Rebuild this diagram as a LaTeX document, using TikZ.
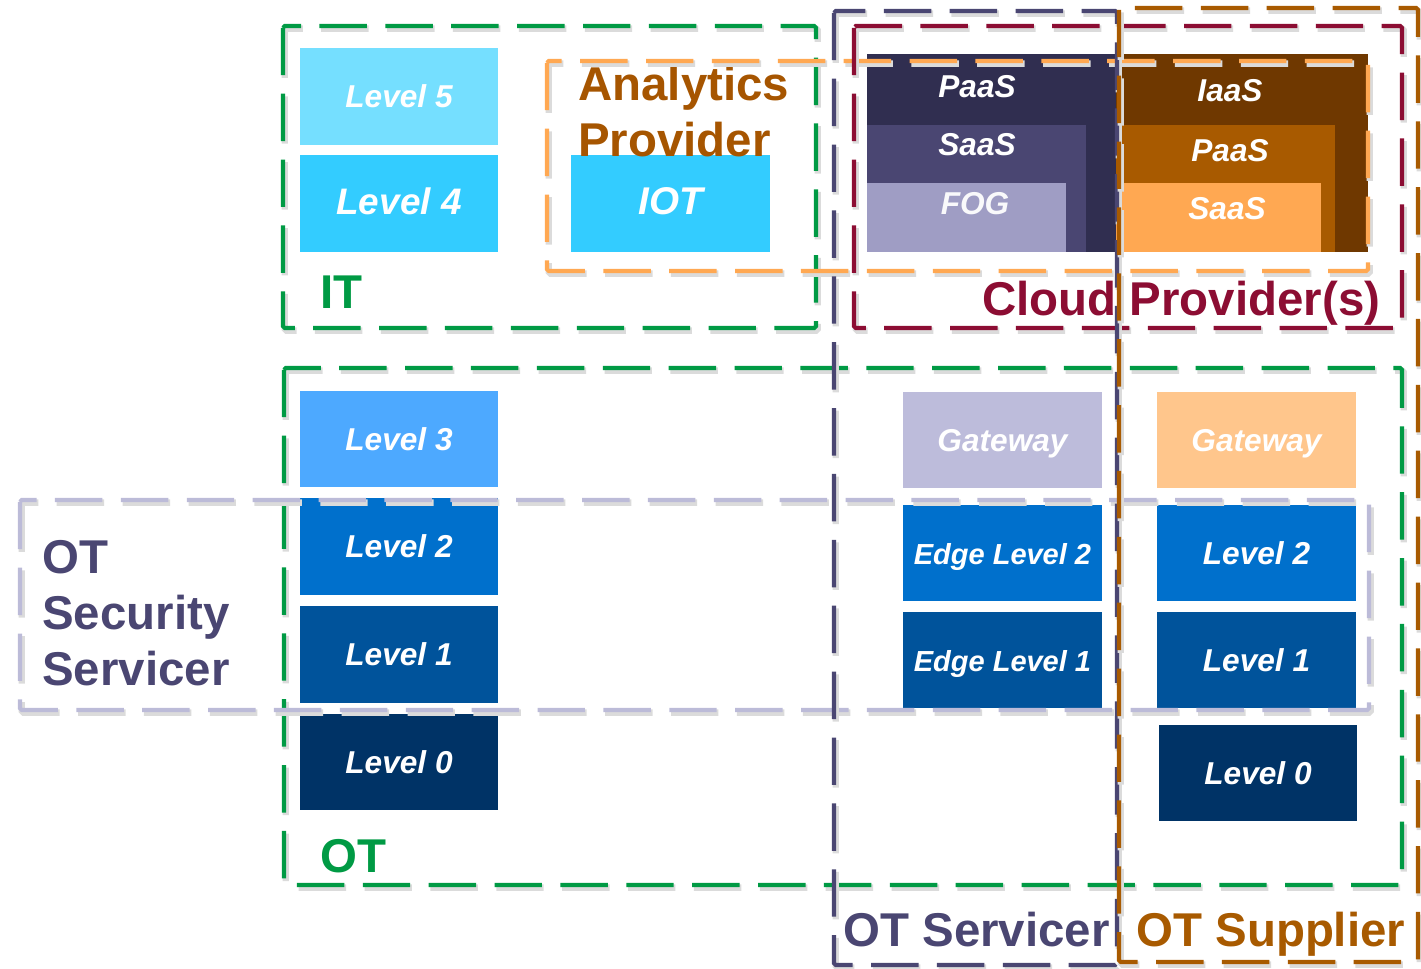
\documentclass[tikz,border=0pt]{standalone}
\usepackage{fontspec}
\setmainfont{Liberation Sans}
\usetikzlibrary{arrows.meta,calc}
\definecolor{itgreen}{HTML}{009A44}
\definecolor{secgray}{HTML}{BCBBD8}
\definecolor{servnavy}{HTML}{4A4672}
\definecolor{suppbrown}{HTML}{A85A00}
\definecolor{cloudred}{HTML}{8C0D33}
\definecolor{anaorange}{HTML}{FFA852}
\definecolor{anatext}{HTML}{A65500}
\definecolor{lvfive}{HTML}{75DFFF}
\definecolor{lvfour}{HTML}{33CCFF}
\definecolor{lvthree}{HTML}{4DA9FF}
\definecolor{lvtwo}{HTML}{0070CC}
\definecolor{lvone}{HTML}{00539B}
\definecolor{lvzero}{HTML}{003366}
\definecolor{gwlav}{HTML}{BDBCDB}
\definecolor{gworange}{HTML}{FFC68C}
\definecolor{paasnavy}{HTML}{302E50}
\definecolor{fogblue}{HTML}{9F9DC4}
\definecolor{iaasbrown}{HTML}{6F3800}

\begin{document}
\begin{tikzpicture}[x=0.02cm,y=-0.02cm,
    lvl/.style={inner sep=0pt,minimum width=3.98cm,minimum height=1.93cm,text=white,
      text height=13pt,text depth=0pt,font=\bfseries\itshape\fontsize{18}{20}\selectfont},
    stacklbl/.style={inner sep=0pt,text=white,text height=13pt,text depth=0pt,
      font=\bfseries\itshape\fontsize{18}{20}\selectfont},
    ttl/.style={inner sep=0pt,align=left,font=\bfseries\fontsize{27}{32}\selectfont},
    grp/.style={line width=2.3pt,dash pattern=on 27pt off 10.5pt,rounded corners=1pt,
      preaction={draw=black!14,line width=3.6pt,dash pattern=on 27pt off 10.5pt,
        transform canvas={shift={(1pt,-1.5pt)}}}}]
  \useasboundingbox (0,0) rectangle (1421,968);
  \begin{scope}
  \clip (0,0) rectangle (1421,968);

  % IT levels
  \node[lvl,fill=lvfive] (lv5) at (399,96.5) {Level 5};
  \node[lvl,fill=lvfour,font=\bfseries\itshape\fontsize{21}{24}\selectfont] (lv4) at (399,203.5) {Level 4};
  \node[lvl,fill=lvfour,font=\bfseries\itshape\fontsize{22}{24}\selectfont] (iot) at (670.5,203.5) {IOT};

  % cloud stacks
  \fill[fill=paasnavy] (867,54) rectangle (1116,252);
  \fill[fill=servnavy] (867,125) rectangle (1086,252);
  \fill[fill=fogblue] (867,183) rectangle (1066,252);
  \fill[fill=iaasbrown] (1116,54) rectangle (1368,252);
  \fill[fill=suppbrown] (1116,125) rectangle (1335,252);
  \fill[fill=anaorange] (1116,183) rectangle (1321,252);
  \node[stacklbl] (cpaas) at (977,86) {PaaS};
  \node[stacklbl] (csaas) at (977,144) {SaaS};
  \node[stacklbl,text=white!94!fogblue] (cfog) at (975,203) {FOG};
  \node[stacklbl] (ciaas) at (1230,90) {IaaS};
  \node[stacklbl] (spaas) at (1230,150) {PaaS};
  \node[stacklbl] (ssaas) at (1227,208) {SaaS};

  % OT levels
  \node[lvl,fill=lvthree] (lv3) at (399,439) {Level 3};
  \node[lvl,fill=lvtwo] (lv2) at (399,546.5) {Level 2};
  \node[lvl,fill=lvone] (lv1) at (399,654.5) {Level 1};
  \node[lvl,fill=lvzero] (lv0) at (399,762) {Level 0};

  \node[lvl,fill=gwlav] (gw1) at (1002.5,440) {Gateway};
  \node[lvl,fill=lvtwo,font=\bfseries\itshape\fontsize{16.5}{18}\selectfont] (el2) at (1002.5,553) {Edge Level 2};
  \node[lvl,fill=lvone,font=\bfseries\itshape\fontsize{16.5}{18}\selectfont] (el1) at (1002.5,660) {Edge Level 1};

  \node[lvl,fill=gworange] (gw2) at (1256.5,440) {Gateway};
  \node[lvl,fill=lvtwo] (sl2) at (1256.5,553) {Level 2};
  \node[lvl,fill=lvone] (sl1) at (1256.5,660) {Level 1};
  \node[lvl,fill=lvzero] (sl0) at (1258,773) {Level 0};

  % group titles
  \node[ttl,text=itgreen,anchor=base west] (ittl) at (320,308) {IT};
  \node[ttl,text=itgreen,anchor=base west] (ottl) at (320,872) {OT};
  \node[ttl,text=anatext,anchor=north west] (anattl) at (578,66) {Analytics\\Provider};
  \node[ttl,text=cloudred,anchor=base west] (cloudttl) at (982,315) {Cloud Provider(s)};
  \node[ttl,text=servnavy,anchor=north west] (secttl) at (42,540) {OT\\Security\\Servicer};
  \node[ttl,text=servnavy,anchor=base west] (servttl) at (843,946) {OT Servicer};
  \node[ttl,text=suppbrown,anchor=base west] (suppttl) at (1136,946) {OT Supplier};

  % dashed groups
  \draw[grp,draw=itgreen] (283,26) rectangle (816,328);
  \draw[grp,draw=itgreen] (284,368) rectangle (1402,885);
  \draw[grp,draw=secgray] (20,500) rectangle (1369,710);
  \draw[grp,draw=anaorange] (547,61) rectangle (1368,271);
  \draw[grp,draw=cloudred] (854,26) rectangle (1402,328);
  \draw[grp,draw=servnavy] (834,11) rectangle (1117,965);
  \draw[grp,draw=suppbrown] (1119,8) rectangle (1418,962);
  \end{scope}
\end{tikzpicture}
\end{document}
